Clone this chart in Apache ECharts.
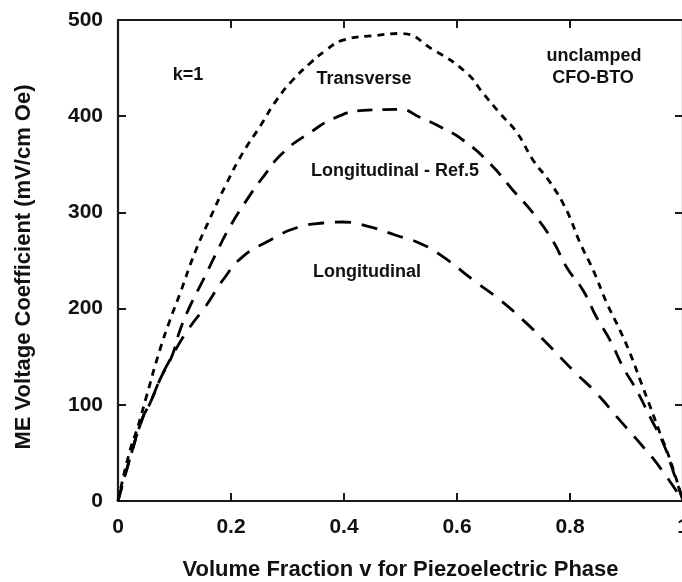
<!DOCTYPE html>
<html>
<head>
<meta charset="utf-8">
<script src="https://cdn.jsdelivr.net/npm/echarts@6/dist/echarts.min.js"></script>
<style>
html,body{margin:0;padding:0;background:#fff;}
#chart{width:682px;height:582px;}
</style>
</head>
<body>
<div id="chart"></div>
<script>
// Volume fraction v (x) and ME voltage coefficient (mV/cm Oe) for each curve
var vTransverse = [0, 0.02, 0.035, 0.05, 0.074, 0.092, 0.11, 0.136, 0.163, 0.192, 0.221, 0.251, 0.281, 0.31, 0.34, 0.369, 0.398, 0.458, 0.5, 0.558, 0.617, 0.646, 0.676, 0.706, 0.735, 0.765, 0.794, 0.818, 0.841, 0.865, 0.888, 0.906, 0.924, 0.942, 0.959, 0.977, 1.0];
var transverse = [0, 50, 77, 108, 157, 188, 216, 258, 294, 330, 362, 389, 417, 438, 455, 469, 479, 484, 486, 469, 445, 424, 403, 383, 354, 331, 302, 268, 240, 206, 178, 154, 126, 98, 71, 43, 0];

var vRef5 = [0, 0.02, 0.044, 0.057, 0.074, 0.095, 0.11, 0.127, 0.151, 0.175, 0.198, 0.228, 0.257, 0.292, 0.34, 0.387, 0.434, 0.5, 0.534, 0.57, 0.611, 0.658, 0.699, 0.735, 0.77, 0.794, 0.823, 0.847, 0.871, 0.894, 0.918, 0.942, 0.965, 0.982, 1.0];
var ref5 = [0, 42, 87, 102, 126, 150, 178, 202, 230, 259, 285, 313, 337, 362, 383, 399, 406, 407, 399, 389, 375, 351, 323, 299, 270, 243, 219, 191, 167, 139, 115, 87, 60, 32, 0];

var vLongitudinal = [0, 0.02, 0.044, 0.057, 0.074, 0.095, 0.124, 0.157, 0.186, 0.221, 0.269, 0.316, 0.363, 0.398, 0.446, 0.493, 0.534, 0.575, 0.628, 0.676, 0.717, 0.759, 0.805, 0.847, 0.888, 0.924, 0.959, 1.0];
var longitudinal = [0, 42, 87, 102, 126, 150, 178, 204, 230, 254, 271, 284, 289, 290, 285, 276, 268, 254, 230, 209, 188, 164, 136, 112, 84, 60, 35, 0];

var xTicks = [0, 0.2, 0.4, 0.6, 0.8, 1];
var yTicks = [0, 100, 200, 300, 400, 500];

function pairs(xs, ys) { return xs.map(function (x, i) { return [x, ys[i]]; }); }

var FONT = '"Liberation Sans", Arial, Helvetica, sans-serif';
var axisColor = '#1a1a1a';
var chart = echarts.init(document.getElementById('chart'), null, {renderer: 'canvas'});

function common() {
  return {
    axisLine: {show: true, onZero: false, lineStyle: {color: axisColor, width: 2.2}},
    axisTick: {show: true, inside: true, length: 8, lineStyle: {color: axisColor, width: 2}},
    splitLine: {show: false}
  };
}

chart.setOption({
  animation: false,
  backgroundColor: '#fff',
  grid: {left: 118, top: 20, width: 565, height: 481, outerBoundsMode: 'none', containLabel: false},
  xAxis: [
    Object.assign({
      type: 'value', min: 0, max: 1, interval: 0.2, position: 'bottom',
      axisLabel: {
        margin: 16, color: '#111', fontFamily: FONT, fontWeight: 'bold', fontSize: 21,
        formatter: function (v) { return v === 0 ? '0' : (v === 1 ? '1' : v.toFixed(1)); }
      },
      name: 'Volume Fraction v for Piezoelectric Phase',
      nameLocation: 'middle', nameGap: 58,
      nameTextStyle: {color: '#111', fontFamily: FONT, fontWeight: 'bold', fontSize: 22}
    }, common()),
    Object.assign({
      type: 'value', min: 0, max: 1, interval: 0.2, position: 'top',
      axisLabel: {show: false}
    }, common())
  ],
  yAxis: [
    Object.assign({
      type: 'value', min: 0, max: 500, interval: 100, position: 'left',
      axisLabel: {margin: 15, color: '#111', fontFamily: FONT, fontWeight: 'bold', fontSize: 21,
        formatter: function (v) { return yTicks.indexOf(v) >= 0 ? String(v) : ''; }}
    }, common()),
    Object.assign({
      type: 'value', min: 0, max: 500, interval: 100, position: 'right',
      axisLabel: {show: false}
    }, common())
  ],
  graphic: [
    {type: 'text', x: 24, y: 267, rotation: Math.PI / 2,
     style: {text: 'ME Voltage Coefficient (mV/cm Oe)', fill: '#111', font: 'bold 22px ' + FONT, align: 'center', verticalAlign: 'middle'}},
    {type: 'text', x: 188, y: 75, style: {text: 'k=1', fill: '#111', font: 'bold 18px ' + FONT, align: 'center', verticalAlign: 'middle'}},
    {type: 'text', x: 364, y: 79, style: {text: 'Transverse', fill: '#111', font: 'bold 18px ' + FONT, align: 'center', verticalAlign: 'middle'}},
    {type: 'text', x: 395, y: 171, style: {text: 'Longitudinal - Ref.5', fill: '#111', font: 'bold 18px ' + FONT, align: 'center', verticalAlign: 'middle'}},
    {type: 'text', x: 367, y: 272, style: {text: 'Longitudinal', fill: '#111', font: 'bold 18px ' + FONT, align: 'center', verticalAlign: 'middle'}},
    {type: 'text', x: 594, y: 56, style: {text: 'unclamped', fill: '#111', font: 'bold 18px ' + FONT, align: 'center', verticalAlign: 'middle'}},
    {type: 'text', x: 593, y: 78, style: {text: 'CFO-BTO', fill: '#111', font: 'bold 18px ' + FONT, align: 'center', verticalAlign: 'middle'}}
  ],
  series: [
    {name: 'Transverse', type: 'line', data: pairs(vTransverse, transverse), smooth: 0.5, showSymbol: false,
     lineStyle: {color: '#000', width: 2.8, type: [7, 6]}},
    {name: 'Longitudinal - Ref.5', type: 'line', data: pairs(vRef5, ref5), smooth: 0.5, showSymbol: false,
     lineStyle: {color: '#000', width: 2.8, type: [15, 10]}},
    {name: 'Longitudinal', type: 'line', data: pairs(vLongitudinal, longitudinal), smooth: 0.5, showSymbol: false,
     lineStyle: {color: '#000', width: 2.8, type: [16, 11]}}
  ]
});
</script>
</body>
</html>
